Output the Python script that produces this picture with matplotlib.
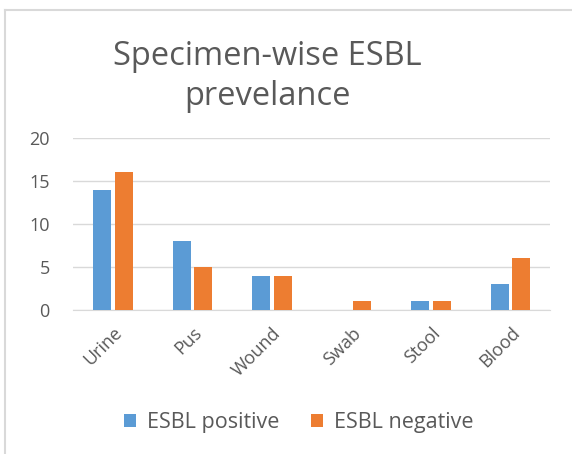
import numpy as np
import matplotlib.pyplot as plt
from matplotlib.lines import Line2D

plt.rcParams['font.family'] = ['Open Sans', 'DejaVu Sans']

specimens = ['Urine', 'Pus', 'Wound', 'Swab', 'Stool', 'Blood']
esbl_positive = [14, 8, 4, 0, 1, 3]
esbl_negative = [16, 5, 4, 1, 1, 6]
series_names = ['ESBL positive', 'ESBL negative']

blue = '#5b9bd5'
orange = '#ed7d31'
text_grey = '#595959'
grid_grey = '#d9d9d9'

fig = plt.figure(figsize=(5.72, 4.54), dpi=100)
ax = fig.add_axes([0.128, 0.317, 0.834, 0.379])

x = np.arange(len(specimens))
w = 0.23
ax.bar(x - 0.135, esbl_positive, w, color=blue, label=series_names[0], zorder=3)
ax.bar(x + 0.135, esbl_negative, w, color=orange, label=series_names[1], zorder=3)

ax.set_xlim(-0.5, len(specimens) - 0.5)
ax.set_ylim(0, 20)
ax.set_yticks([0, 5, 10, 15, 20])
ax.yaxis.grid(True, color=grid_grey, linewidth=1, zorder=0)
for s in ['top', 'right', 'left']:
    ax.spines[s].set_visible(False)
ax.spines['bottom'].set_color(grid_grey)
ax.tick_params(axis='both', length=0, colors=text_grey, labelsize=13)
ax.tick_params(axis='y', pad=17)
ax.set_xticks(x)
ax.set_xticklabels(specimens, rotation=45, ha='right', rotation_mode='anchor')
ax.tick_params(axis='x', pad=10)

fig.text(0.467, 0.832, 'Specimen-wise ESBL\nprevelance', ha='center', va='center',
         fontsize=23.5, color=text_grey, linespacing=1.28)

fig.legend(loc='center', bbox_to_anchor=(0.522, 0.07), ncol=2, frameon=False,
           fontsize=15.5, labelcolor=text_grey, handlelength=0.55, handleheight=0.55,
           columnspacing=1.5, handletextpad=0.5)

# outer chart border (top and left only visible)
fig.add_artist(Line2D([0.009, 1.0], [0.978, 0.978], color=grid_grey, linewidth=1.5,
                      transform=fig.transFigure))
fig.add_artist(Line2D([0.009, 0.009], [0.0, 0.978], color=grid_grey, linewidth=1.5,
                      transform=fig.transFigure))

fig.savefig('out.png', dpi=100, facecolor='white')
